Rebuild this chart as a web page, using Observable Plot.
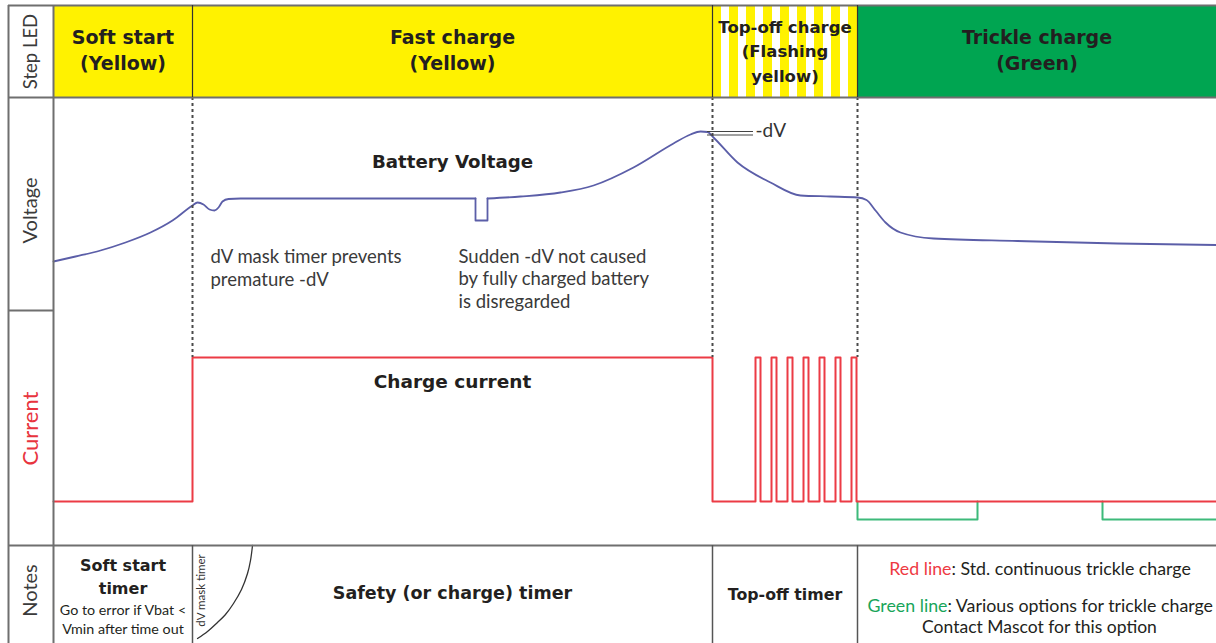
<!DOCTYPE html>
<html><head><meta charset="utf-8">
<script src="https://cdn.jsdelivr.net/npm/d3@7"></script>
<script src="https://cdn.jsdelivr.net/npm/@observablehq/plot@0.6"></script>
<style>
html,body{margin:0;padding:0;background:#fff;}
#chart{width:1216px;height:643px;overflow:hidden;}
</style></head><body><div id="chart"></div>
<script>
const phaseNames = ["Soft start", "Fast charge", "Top-off charge", "Trickle charge"];
const phaseStart = [53, 192, 712, 857];
const phaseEnd   = [192, 712, 857, 1216];
const ledLabels  = ["Soft start\n(Yellow)", "Fast charge\n(Yellow)", "Top-off charge\n(Flashing\nyellow)", "Trickle charge\n(Green)"];
const ledColors  = ["#fff200", "#fff200", "url(#flashing)", "#00a551"];
const rowLabels  = ["Step LED", "Voltage", "Current", "Notes"];

// Battery voltage trace: part "a" = before the sudden dip, "d" = dip, "c" = after
const voltTime  = [53,75,100,125,150,172,192,197,203,209,214,218,222,228,240,300,400,475, 475,487, 487,520,560,593,633,673,690,700,707,713,737,770,800,830,857,866,875,885,900,933,1017,1117,1216];
const voltLevel = [261,256,250,242,232,220,205,202,204,209,210,207,201,198.5,198,198,198,198, 220,220, 198,196,192,185,167,143,134,131,131.5,137,162,182,195,196,197,199.5,210,222,232,238,240.5,243,244.5];
const voltPart  = ["a","a","a","a","a","a","a","a","a","a","a","a","a","a","a","a","a","a", "d","d", "c","c","c","c","c","c","c","c","c","c","c","c","c","c","c","c","c","c","c","c","c","c","c"];

// Charge current (red) and trickle options (green)
const currentTime  = [53,192,192,712,712,755,755,760,760,771,771,776,776,787,787,792,792,803,803,808,808,819,819,824,824,835,835,840,840,851,851,856,856,1216];
const currentLevel = [501,501,357,357,501,501,357,357,501,501,357,357,501,501,357,357,501,501,357,357,501,501,357,357,501,501,357,357,501,501,357,357,501,501];
const trickleTime  = [857,857,977,977, 1102,1102,1216];
const trickleLevel = [501,519,519,501, 501,519,519];
const trickleGroup = [1,1,1,1, 2,2,2];

// -dV marker
const dVTime  = [707, 753];
const dVLevel = [131, 134.5];

// dV mask timer curve in the notes row
const maskTime  = [252,250,247,241,233,225,217,207,197];
const maskLevel = [545,560,573,589,603,614,622,631,638];

// Texts
const noteTitles = ["Soft start\ntimer", "Safety (or charge) timer", "Top-off timer"];
const softStartNote = "Go to error if Vbat <\nVmin after time out";
const trickleNotes = {red: "Red line", redText: ": Std. continuous trickle charge",
  green: "Green line", greenText: ": Various options for trickle charge", contact: "Contact Mascot for this option"};
const annotations = ["dV mask timer prevents\npremature -dV", "Sudden -dV not caused\nby fully charged battery\nis disregarded"];

// ---- Layout (not data) ----
const L = {left: 8, labelRight: 53, right: 1216, top: 5, ledBottom: 97, voltBottom: 310, curBottom: 545, bottom: 643};
const phases = phaseNames.map((name, i) => ({name, start: phaseStart[i], end: phaseEnd[i], led: ledLabels[i], color: ledColors[i], mid: (phaseStart[i] + phaseEnd[i]) / 2}));
const volt = voltTime.map((t, i) => ({t, v: voltLevel[i], part: voltPart[i]}));
const voltSmooth = volt.filter(d => d.part !== "d");
const iDip = volt.findIndex(d => d.part === "d");
const voltDip = volt.slice(iDip - 1, iDip + 3);
const current = currentTime.map((t, i) => ({t, v: currentLevel[i]}));
const trickle = trickleTime.map((t, i) => ({t, v: trickleLevel[i], g: trickleGroup[i]}));
const mask = maskTime.map((t, i) => ({t, v: maskLevel[i]}));
const rowY = [51, 210, 428, 590];
const rowSize = [18.5, 20, 22, 20];
const rows = rowLabels.map((label, i) => ({label, y: rowY[i], size: rowSize[i],
  color: label === "Current" ? "#e8343e" : "#3a3a3a"}));

const border = "#6f6f6f";
const REG = "Lato, 'Open Sans', sans-serif";
const BOLD = "'DejaVu Sans', sans-serif";
const ink = "#231f20";

const chart = Plot.plot({
  width: 1216, height: 643, margin: 0,
  x: {domain: [0, 1216], axis: null},
  y: {domain: [0, 643], reverse: true, axis: null},
  color: {type: "identity"},
  style: {fontFamily: REG, background: "#fff", overflow: "visible"},
  marks: [
    // Step LED row
    Plot.rect(phases, {x1: "start", x2: "end", y1: L.top, y2: L.ledBottom, fill: "color"}),
    Plot.text(phases.filter(d => d.name !== "Top-off charge"), {x: "mid", y: 48, text: "led", fill: ink,
      fontFamily: BOLD, fontWeight: "bold", fontSize: 19, lineHeight: 1.37}),
    Plot.text(phases.filter(d => d.name === "Top-off charge"), {x: "mid", y: 49, text: "led", fill: ink,
      fontFamily: BOLD, fontWeight: "bold", fontSize: 16.5, lineHeight: 1.5}),
    // trickle options (green) then charge current (red)
    Plot.line(trickle, {x: "t", y: "v", z: "g", stroke: "#3dba7a", strokeWidth: 2}),
    Plot.line(current, {x: "t", y: "v", stroke: "#ec3b45", strokeWidth: 2}),
    // battery voltage
    Plot.line(voltSmooth, {x: "t", y: "v", z: "part", curve: "monotone-x", stroke: "#5b5ea8", strokeWidth: 1.8}),
    Plot.line(voltDip, {x: "t", y: "v", stroke: "#5b5ea8", strokeWidth: 1.8}),
    // phase boundaries (dotted)
    Plot.ruleX(phaseStart.slice(1), {y1: L.ledBottom, y2: 357, stroke: "#4a4a4a", strokeWidth: 2, strokeDasharray: "3,3"}),
    // -dV marker
    Plot.ruleY(dVLevel, {x1: dVTime[0], x2: dVTime[1], stroke: "#444", strokeWidth: 1.2}),
    Plot.text(["-dV"], {x: dVTime[1] + 2, y: 130, text: d => d, textAnchor: "start", fontSize: 19, fill: "#333"}),
    // labels in the plot
    Plot.text(["Battery Voltage"], {x: phases[1].mid, y: 162, text: d => d, fontFamily: BOLD, fontWeight: "bold", fontSize: 18.2, fill: ink}),
    Plot.text(["Charge current"], {x: phases[1].mid, y: 382, text: d => d, fontFamily: BOLD, fontWeight: "bold", fontSize: 18.5, fill: ink}),
    Plot.text([annotations[0]], {x: 210, y: 266.5, text: d => d, textAnchor: "start", fontSize: 18.5, lineHeight: 1.25, fill: "#3a3a3a"}),
    Plot.text([annotations[1]], {x: 458, y: 277.5, text: d => d, textAnchor: "start", fontSize: 18.5, lineHeight: 1.22, fill: "#3a3a3a"}),
    // Notes row
    Plot.text([noteTitles[0]], {x: phases[0].mid, y: 575, text: d => d, fontFamily: BOLD, fontWeight: "bold", fontSize: 16, lineHeight: 1.44, fill: ink}),
    Plot.text([softStartNote], {x: phases[0].mid, y: 618, text: d => d, fontSize: 14.3, lineHeight: 1.3, fill: ink}),
    Plot.text([noteTitles[1]], {x: phases[1].mid, y: 593, text: d => d, fontFamily: BOLD, fontWeight: "bold", fontSize: 17.5, fill: ink}),
    Plot.text([noteTitles[2]], {x: phases[2].mid, y: 594, text: d => d, fontFamily: BOLD, fontWeight: "bold", fontSize: 15.8, fill: ink}),
    Plot.text([trickleNotes.red], {x: 951, y: 569, text: d => d, textAnchor: "end", fontSize: 17.8, fill: "#ee3a43"}),
    Plot.text([trickleNotes.redText], {x: 951, y: 569, text: d => d, textAnchor: "start", fontSize: 17.8, fill: ink}),
    Plot.text([trickleNotes.green], {x: 947, y: 606, text: d => d, textAnchor: "end", fontSize: 17.8, fill: "#19a55a"}),
    Plot.text([trickleNotes.greenText], {x: 947, y: 606, text: d => d, textAnchor: "start", fontSize: 17.8, fill: ink}),
    Plot.text([trickleNotes.contact], {x: 1039, y: 627, text: d => d, fontSize: 17.5, fill: ink}),
    Plot.line(mask, {x: "t", y: "v", curve: "catmull-rom", stroke: "#333", strokeWidth: 1.3}),
    Plot.text(["dV mask timer"], {x: 201, y: 590, text: d => d, rotate: -90, fontSize: 11.5, fill: "#333"}),
    // table frame
    Plot.ruleY([L.top, L.ledBottom, L.curBottom], {x1: L.left, x2: L.right, stroke: border, strokeWidth: 2}),
    Plot.ruleY([L.voltBottom], {x1: L.left, x2: L.labelRight, stroke: border, strokeWidth: 2}),
    Plot.ruleX([L.left, L.labelRight], {y1: L.top, y2: L.bottom, stroke: border, strokeWidth: 2}),
    Plot.ruleX(phaseStart.slice(1), {y1: L.top, y2: L.ledBottom, stroke: "#333", strokeWidth: 1.2}),
    Plot.ruleX(phaseStart.slice(1), {y1: L.curBottom, y2: L.bottom, stroke: "#555", strokeWidth: 1.5}),
    // row labels
    Plot.text(rows, {x: 30.5, y: "y", text: "label", rotate: -90, fontSize: "size", fill: "color"})
  ]
});

// flashing-yellow stripe pattern for the Top-off cell
const defs = d3.select(chart).insert("defs", ":first-child");
const pat = defs.append("pattern").attr("id", "flashing").attr("patternUnits", "userSpaceOnUse")
  .attr("x", phaseStart[2]).attr("y", 0).attr("width", 17).attr("height", 100);
pat.append("rect").attr("width", 17).attr("height", 100).attr("fill", "#ffffff");
pat.append("rect").attr("width", 9).attr("height", 100).attr("fill", "#fff200");

document.getElementById("chart").append(chart);
</script></body></html>
